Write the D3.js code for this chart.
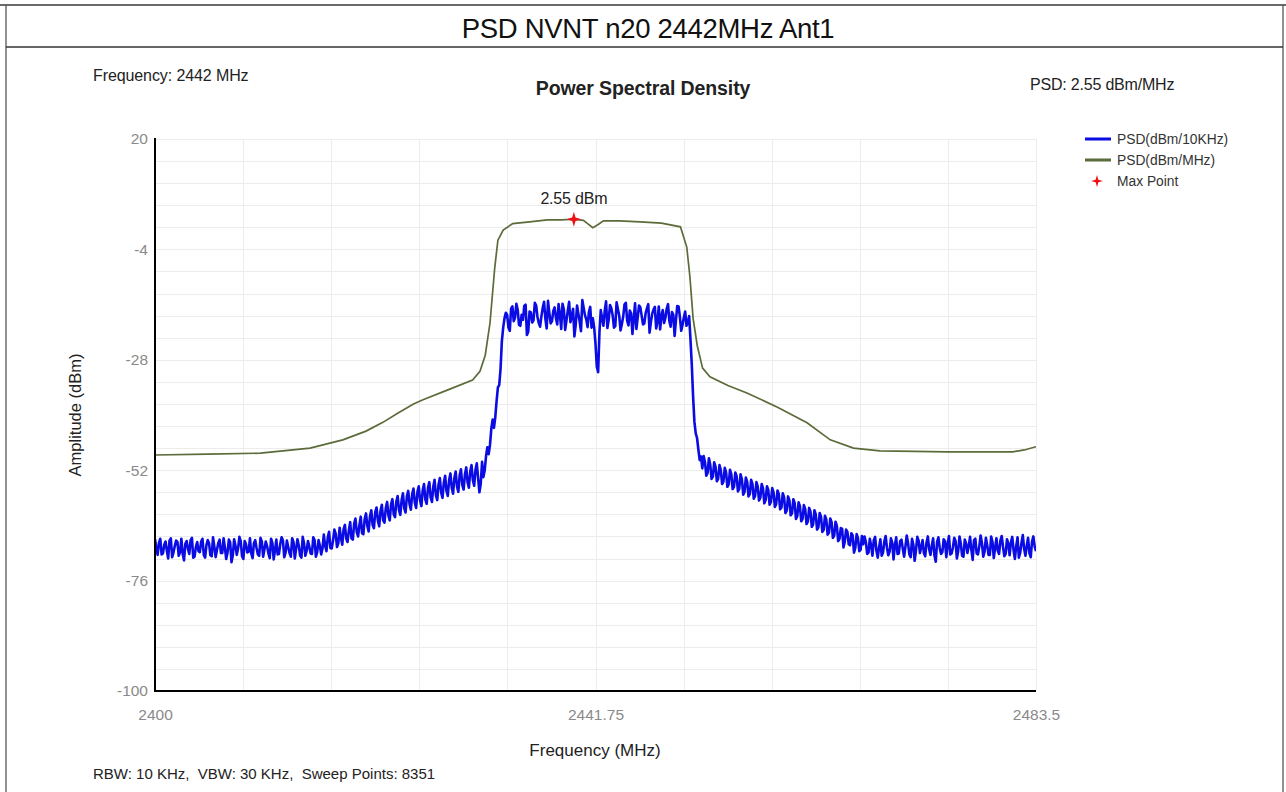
<!DOCTYPE html>
<html>
<head>
<meta charset="utf-8">
<script src="https://cdn.jsdelivr.net/npm/d3@7/dist/d3.min.js"></script>
<style>
  html, body { margin: 0; padding: 0; background: #fff; }
  svg { display: block; }
  text { font-family: "Liberation Sans", Arial, sans-serif; }
</style>
</head>
<body>
<svg id="chart" width="1286" height="792"></svg>
<script>
// ---------- DATA ----------
const chartTitle = "PSD NVNT n20 2442MHz Ant1";
const plotTitle = "Power Spectral Density";
const infoFreq = "Frequency: 2442 MHz";
const infoPsd = "PSD: 2.55 dBm/MHz";
const infoBottom = "RBW: 10 KHz,  VBW: 30 KHz,  Sweep Points: 8351";
const xAxisLabel = "Frequency (MHz)";
const yAxisLabel = "Amplitude (dBm)";
const legendLabels = ["PSD(dBm/10KHz)", "PSD(dBm/MHz)", "Max Point"];

const xDomain = [2400, 2483.5];
const yDomain = [-100, 20];
const xTickValues = [2400, 2441.75, 2483.5];
const xTickLabels = ["2400", "2441.75", "2483.5"];
const yTickValues = [20, -4, -28, -52, -76, -100];
const yTickLabels = ["20", "-4", "-28", "-52", "-76", "-100"];

// max point
const maxFreq = 2439.7;
const maxValue = 2.55;
const maxLabel = "2.55 dBm";

// Blue trace: PSD(dBm/10KHz), read every 0.25 MHz from 2400 MHz ...
const blueStart = 2400;
const blueStep = 0.25;
const blueValues = [
  // 2400 - 2415.75
  -67.0,-70.4,-66.9,-70.1,-67.5,-71.2,-66.8,-69.9,-67.3,-70.6,
  -66.9,-71.6,-67.4,-70.2,-66.7,-70.8,-67.6,-69.8,-66.9,-71.0,
  -67.2,-70.5,-66.6,-70.9,-67.8,-70.0,-66.8,-71.3,-67.1,-72.0,
  -67.0,-70.4,-66.5,-70.7,-67.4,-69.9,-66.8,-71.1,-67.2,-70.3,
  -66.7,-70.8,-67.5,-70.1,-66.9,-71.4,-67.1,-70.2,-66.6,-70.9,
  -67.3,-70.0,-66.8,-71.2,-67.0,-70.5,-66.5,-70.6,-67.4,-70.1,
  -66.6,-70.8,-67.2,-70.3,
  // 2416 - 2431
  -66.0,-69.6,-65.4,-69.0,-64.9,-68.7,-64.5,-68.2,-63.9,-67.6,
  -63.3,-67.1,-62.5,-66.4,-62.1,-65.9,-61.4,-65.3,-60.7,-64.6,
  -60.1,-64.2,-59.5,-63.4,-58.9,-62.9,-58.3,-62.2,-57.6,-61.7,
  -57.0,-61.2,-56.5,-60.6,-56.0,-60.2,-55.5,-59.8,-55.0,-59.3,
  -54.6,-58.9,-54.1,-58.5,-53.7,-58.0,-53.2,-57.6,-52.7,-57.1,
  -52.3,-56.7,-51.8,-56.2,-51.4,-55.8,-50.9,-55.4,-50.5,-56.8,
  -50.2,
  // 2431.25 - 2433
  -52.0,-47.0,-46.5,-41.0,-40.5,-34.0,-30.0,-21.0,
  // 2433.25 - 2441.5
  -17.8,-21.0,-16.9,-19.6,-15.8,-20.4,-18.2,-16.3,-22.6,-17.5,
  -19.9,-15.6,-18.7,-20.8,-16.7,-19.1,-15.2,-20.1,-17.4,-18.9,
  -15.9,-21.3,-17.0,-19.4,-15.4,-18.6,-22.9,-16.2,-19.7,-15.0,
  -18.3,-20.9,-16.5,-19.0,
  // 2441.75 - 2442 (centre notch)
  -24.5,-30.7,
  // 2442.25 - 2450.5
  -17.2,-20.6,-15.3,-19.3,-16.8,-21.0,-15.5,-18.4,-20.2,-16.0,
  -19.5,-17.3,-22.4,-15.7,-18.8,-16.6,-20.3,-17.9,-15.9,-19.8,
  -17.1,-21.2,-16.4,-18.5,-20.0,-16.9,-19.6,-17.6,-22.8,-16.3,
  -18.7,-20.4,-17.5,-19.9,
  // 2450.75 - 2451.75
  -23.5,-36.0,-44.0,-47.5,-49.0,
  // 2452 - 2467
  -48.9,-53.2,-49.4,-53.9,-50.3,-54.4,-50.9,-55.0,-51.5,-55.6,
  -51.9,-56.1,-52.5,-56.6,-52.9,-57.3,-53.6,-57.7,-54.1,-58.2,
  -54.6,-58.6,-55.0,-59.2,-55.5,-59.5,-55.9,-60.0,-56.4,-60.5,
  -57.0,-61.3,-57.7,-61.8,-58.3,-62.6,-59.0,-63.1,-59.6,-63.7,
  -60.2,-64.3,-60.7,-64.9,-61.3,-65.4,-61.9,-66.0,-62.5,-66.7,
  -63.2,-67.4,-64.6,-68.8,-64.9,-68.1,-65.7,-69.9,-65.9,-69.6,
  -66.3,
  // 2467.25 - 2483.5
  -66.4,-70.2,-66.9,-70.6,-66.5,-71.0,-67.0,-69.9,-66.3,-70.5,
  -66.8,-71.4,-66.6,-70.1,-67.1,-70.8,-66.2,-70.3,-66.9,-71.7,
  -66.5,-70.0,-67.2,-70.7,-66.4,-70.4,-66.8,-71.9,-66.6,-70.2,
  -67.0,-70.9,-66.3,-70.1,-66.7,-71.2,-66.4,-70.6,-67.1,-70.0,
  -66.5,-71.5,-66.9,-70.3,-66.2,-70.8,-66.7,-70.4,-66.4,-71.1,
  -66.8,-70.2,-66.3,-70.7,-67.0,-70.5,-66.5,-71.3,-66.6,-70.0,
  -66.1,-70.6,-66.7,-70.9,-66.4,-69.6
];
// ... and the in-between readings, every 0.25 MHz from 2400.125 MHz
const blueMidStart = 2400.125;
const blueMidValues = [
  // 2400.125 - 2415.875
  -68.9,-67.8,-70.3,-68.2,-69.5,-67.3,-70.9,-68.5,-67.6,-69.8,
  -70.2,-68.0,-69.1,-67.2,-71.0,-68.7,-69.6,-67.5,-70.4,-68.3,
  -67.9,-70.7,-68.6,-69.3,-67.1,-70.0,-68.8,-69.9,-67.7,-70.5,
  -68.4,-69.0,-67.4,-71.3,-68.1,-69.7,-70.1,-67.9,-68.9,-70.6,
  -67.5,-69.2,-68.5,-71.1,-67.8,-69.4,-70.3,-68.0,-67.3,-69.9,
  -68.7,-70.8,-67.6,-69.1,-68.3,-71.0,-67.9,-69.5,-68.6,-70.2,
  -67.2,-69.8,-68.4,-69.0,
  // 2416.125 - 2430.875
  -68.4,-66.6,-68.9,-67.3,-65.8,-67.9,-66.7,-64.8,-66.9,-65.1,
  -66.8,-63.6,-65.5,-63.9,-65.7,-62.6,-64.1,-62.0,-63.9,-61.1,
  -63.0,-60.8,-62.9,-60.2,-61.9,-59.4,-61.6,-58.8,-60.7,-58.5,
  -60.3,-57.6,-59.4,-57.2,-59.1,-56.7,-58.6,-56.3,-58.4,-55.8,
  -57.9,-55.6,-57.5,-55.1,-56.9,-54.7,-56.5,-54.2,-55.8,-53.7,
  -55.6,-53.1,-55.2,-52.9,-54.6,-52.3,-54.1,-51.9,-53.8,-54.9,
  // 2431.125 - 2432.875
  -53.5,-49.0,-48.5,-43.0,-42.8,-37.0,-33.5,-24.0,
  // 2433.125 - 2441.375
  -19.0,-18.2,-21.7,-16.4,-18.8,-17.1,-20.6,-19.3,-16.0,-21.9,
  -17.7,-19.4,-16.2,-20.0,-18.5,-15.4,-21.2,-17.8,-19.6,-16.6,
  -20.3,-18.1,-15.8,-21.5,-17.3,-19.8,-16.9,-20.4,-18.0,-21.8,
  -16.7,-19.2,-17.6,-21.0,
  // 2441.625 - 2441.875 (centre notch)
  -21.0,-29.5,
  // 2442.125 - 2450.375
  -22.0,-18.9,-17.4,-21.1,-16.1,-18.3,-20.7,-17.0,-21.6,-18.6,
  -15.6,-20.5,-17.9,-19.1,-21.3,-16.2,-18.4,-20.1,-16.8,-22.1,
  -18.0,-16.5,-19.7,-21.4,-17.2,-18.9,-15.9,-20.8,-18.2,-19.4,
  -16.4,-21.7,-18.8,-20.6,
  // 2450.625 - 2451.625
  -18.5,-29.0,-41.5,-45.0,-49.8,
  // 2451.875 - 2466.875
  -51.6,-50.2,-52.6,-50.8,-53.4,-51.2,-53.9,-52.0,-54.5,-52.4,
  -55.1,-52.9,-55.6,-53.3,-56.0,-54.0,-56.7,-54.5,-57.2,-55.0,
  -57.6,-55.5,-58.0,-55.9,-58.5,-56.3,-58.9,-56.8,-59.4,-57.2,
  -60.1,-57.9,-60.8,-58.5,-61.4,-59.1,-62.0,-59.8,-62.6,-60.4,
  -63.2,-61.0,-63.8,-61.6,-64.4,-62.1,-65.0,-62.7,-65.6,-63.3,
  -66.2,-64.1,-66.9,-64.7,-67.6,-65.4,-68.3,-66.2,-68.9,-66.7,
  -69.3,
  // 2467.125 - 2483.375
  -68.1,-67.6,-69.9,-68.4,-67.2,-69.5,-68.8,-70.6,-67.5,-68.9,
  -69.7,-67.8,-68.3,-70.2,-67.4,-69.1,-68.6,-67.9,-70.9,-68.2,
  -69.4,-67.3,-68.7,-70.0,-67.7,-69.2,-68.4,-70.5,-67.6,-68.9,
  -69.8,-67.5,-68.1,-70.3,-68.8,-67.4,-69.6,-68.0,-70.8,-67.9,
  -68.5,-69.3,-67.2,-70.1,-68.6,-67.8,-69.7,-68.3,-70.4,-67.6,
  -68.9,-69.5,-67.3,-68.7,-70.2,-68.0,-67.7,-69.4,-68.5,-71.0,
  -67.8,-69.1,-68.4,-70.0,-67.5,-68.6
];

// Green trace: PSD(dBm/MHz)
const greenFreq = [
  2400, 2405, 2410, 2414.7, 2417.8, 2420, 2421.6, 2423, 2424.5, 2425.4,
  2427.7, 2430.1, 2430.8, 2431.3, 2431.75, 2432.2, 2432.5, 2433, 2433.9, 2435.5,
  2437.2, 2438.5, 2439.7, 2440.6, 2441.0, 2441.5, 2442.0, 2442.5, 2444, 2446,
  2448, 2449.8, 2450.4, 2450.7, 2451.0, 2451.4, 2451.9, 2452.6, 2454.3, 2456.1,
  2459.0, 2461.8, 2464.0, 2466.2, 2468.7, 2472, 2475.1, 2478, 2481.3, 2482.4,
  2483.5
];
const greenValues = [
  -48.7, -48.5, -48.3, -47.2, -45.4, -43.5, -41.6, -39.6, -37.6, -36.7,
  -34.6, -32.4, -30.5, -27.0, -20.0, -8.0, -2.0, 0.2, 1.6, 2.0,
  2.4, 2.4, 2.55, 2.3, 1.6, 0.7, 1.4, 2.2, 2.2, 2.0,
  1.7, 0.9, -3.5, -10.0, -19.0, -25.0, -29.8, -31.7, -33.6, -35.2,
  -38.3, -41.7, -45.4, -47.2, -47.8, -47.9, -48.0, -48.0, -48.0, -47.6,
  -46.9
];

// ---------- LAYOUT ----------
const svg = d3.select("#chart");
const W = 1286, H = 792;
const plot = { left: 155, right: 1036, top: 139, bottom: 691 };

const x = d3.scaleLinear().domain(xDomain).range([plot.left, plot.right]);
const y = d3.scaleLinear().domain(yDomain).range([plot.bottom, plot.top]);

// outer frame
svg.append("line").attr("x1", 0).attr("x2", W).attr("y1", 5).attr("y2", 5)
  .attr("stroke", "#6a6a6a").attr("stroke-width", 2);
svg.append("line").attr("x1", 6).attr("x2", 6).attr("y1", 5).attr("y2", H)
  .attr("stroke", "#555").attr("stroke-width", 1.3);
svg.append("line").attr("x1", 1283).attr("x2", 1283).attr("y1", 5).attr("y2", H)
  .attr("stroke", "#555").attr("stroke-width", 1.3);
svg.append("line").attr("x1", 6).attr("x2", 1283).attr("y1", 47).attr("y2", 47)
  .attr("stroke", "#333").attr("stroke-width", 1.5);

svg.append("text").attr("x", 648).attr("y", 38).attr("text-anchor", "middle")
  .attr("font-size", 27.5).attr("fill", "#111").attr("letter-spacing", -0.3)
  .text(chartTitle);

// info texts
svg.append("text").attr("x", 93).attr("y", 81).attr("font-size", 16)
  .attr("fill", "#222").attr("letter-spacing", -0.1).text(infoFreq);
svg.append("text").attr("x", 643).attr("y", 95).attr("text-anchor", "middle")
  .attr("font-size", 19.5).attr("font-weight", "bold").attr("fill", "#222")
  .attr("letter-spacing", -0.1).text(plotTitle);
svg.append("text").attr("x", 1030).attr("y", 90).attr("font-size", 16)
  .attr("fill", "#222").attr("letter-spacing", -0.2).text(infoPsd);
svg.append("text").attr("x", 93).attr("y", 779).attr("font-size", 15)
  .attr("fill", "#222").attr("xml:space", "preserve")
  .style("white-space", "pre").text(infoBottom);

// gridlines
const gGrid = svg.append("g");
const yGrid = d3.range(0, 26).map(i => yDomain[0] + i * 4.8);
const xGrid = d3.range(0, 11).map(i => xDomain[0] + i * 8.35);
gGrid.selectAll("line.h").data(yGrid).join("line")
  .attr("x1", plot.left).attr("x2", plot.right)
  .attr("y1", d => Math.round(y(d)) + 0.5).attr("y2", d => Math.round(y(d)) + 0.5)
  .attr("stroke", "#ececec").attr("stroke-width", 1);
gGrid.selectAll("line.v").data(xGrid).join("line")
  .attr("y1", plot.top).attr("y2", plot.bottom)
  .attr("x1", d => Math.round(x(d)) + 0.5).attr("x2", d => Math.round(x(d)) + 0.5)
  .attr("stroke", "#ececec").attr("stroke-width", 1);

// clip
svg.append("clipPath").attr("id", "clip").append("rect")
  .attr("x", plot.left).attr("y", plot.top)
  .attr("width", plot.right - plot.left).attr("height", plot.bottom - plot.top);

// traces
const blueData = blueValues.map((v, i) => [blueStart + i * blueStep, v])
  .concat(blueMidValues.map((v, i) => [blueMidStart + i * blueStep, v]))
  .sort((a, b) => a[0] - b[0]);
const greenData = greenFreq.map((f, i) => [f, greenValues[i]]);
const line = d3.line().x(d => x(d[0])).y(d => y(d[1]));

const gTr = svg.append("g").attr("clip-path", "url(#clip)");
gTr.append("path").datum(greenData).attr("d", line)
  .attr("fill", "none").attr("stroke", "#5b6b3a").attr("stroke-width", 1.7);
gTr.append("path").datum(blueData).attr("d", line)
  .attr("fill", "none").attr("stroke", "#0b0be4").attr("stroke-width", 2.6)
  .attr("stroke-linejoin", "round");

// axes
const yAxis = d3.axisLeft(y).tickValues(yTickValues)
  .tickFormat((d, i) => yTickLabels[i]).tickSize(0).tickPadding(7);
const gy = svg.append("g").attr("transform", `translate(${plot.left},0)`).call(yAxis);
gy.select(".domain").remove();
gy.selectAll("text").attr("font-size", 15.5).attr("fill", "#8a8a8a")
  .attr("font-family", "'Liberation Sans', Arial, sans-serif");

const xAxis = d3.axisBottom(x).tickValues(xTickValues)
  .tickFormat((d, i) => xTickLabels[i]).tickSize(0).tickPadding(18);
const gx = svg.append("g").attr("transform", `translate(0,${plot.bottom})`).call(xAxis);
gx.select(".domain").remove();
gx.selectAll("text").attr("font-size", 15.5).attr("fill", "#8a8a8a")
  .attr("font-family", "'Liberation Sans', Arial, sans-serif");

svg.append("line").attr("x1", plot.left).attr("x2", plot.left)
  .attr("y1", plot.top - 1).attr("y2", plot.bottom + 1)
  .attr("stroke", "#000").attr("stroke-width", 2);
svg.append("line").attr("x1", plot.left - 1).attr("x2", plot.right)
  .attr("y1", plot.bottom).attr("y2", plot.bottom)
  .attr("stroke", "#000").attr("stroke-width", 2);

// axis labels
svg.append("text").attr("x", 595).attr("y", 756).attr("text-anchor", "middle")
  .attr("font-size", 17).attr("fill", "#222").text(xAxisLabel);
svg.append("text").attr("transform", "translate(81,415) rotate(-90)")
  .attr("text-anchor", "middle").attr("font-size", 16.5).attr("fill", "#222")
  .text(yAxisLabel);

// 4-point star symbol
const star4 = {
  draw(ctx, size) {
    const r = Math.sqrt(size) * 0.75, ri = r * 0.32;
    for (let k = 0; k < 8; k++) {
      const a = k * Math.PI / 4 - Math.PI / 2;
      const rr = k % 2 === 0 ? r : ri;
      const px = rr * Math.cos(a), py = rr * Math.sin(a);
      if (k === 0) ctx.moveTo(px, py); else ctx.lineTo(px, py);
    }
    ctx.closePath();
  }
};
const starPath = d3.symbol().type(star4).size(100)();

svg.append("path").attr("d", starPath)
  .attr("transform", `translate(${x(maxFreq)},${y(maxValue)})`)
  .attr("fill", "#ee1111");
svg.append("text").attr("x", x(maxFreq)).attr("y", y(maxValue) - 15)
  .attr("text-anchor", "middle").attr("font-size", 16).attr("fill", "#222")
  .attr("letter-spacing", -0.2).text(maxLabel);

// legend
const legend = svg.append("g").attr("transform", "translate(1085,139)");
const legColors = ["#0b0be4", "#5b6b3a", "#ee1111"];
legendLabels.forEach((lab, i) => {
  const gy0 = i * 21;
  if (i < 2) {
    legend.append("line").attr("x1", 0).attr("x2", 26).attr("y1", gy0).attr("y2", gy0)
      .attr("stroke", legColors[i]).attr("stroke-width", 3);
  } else {
    legend.append("path").attr("d", d3.symbol().type(star4).size(64)())
      .attr("transform", `translate(12,${gy0})`).attr("fill", legColors[i]);
  }
  legend.append("text").attr("x", 32).attr("y", gy0 + 5).attr("font-size", 13.8)
    .attr("fill", "#333").text(lab);
});
</script>
</body>
</html>
